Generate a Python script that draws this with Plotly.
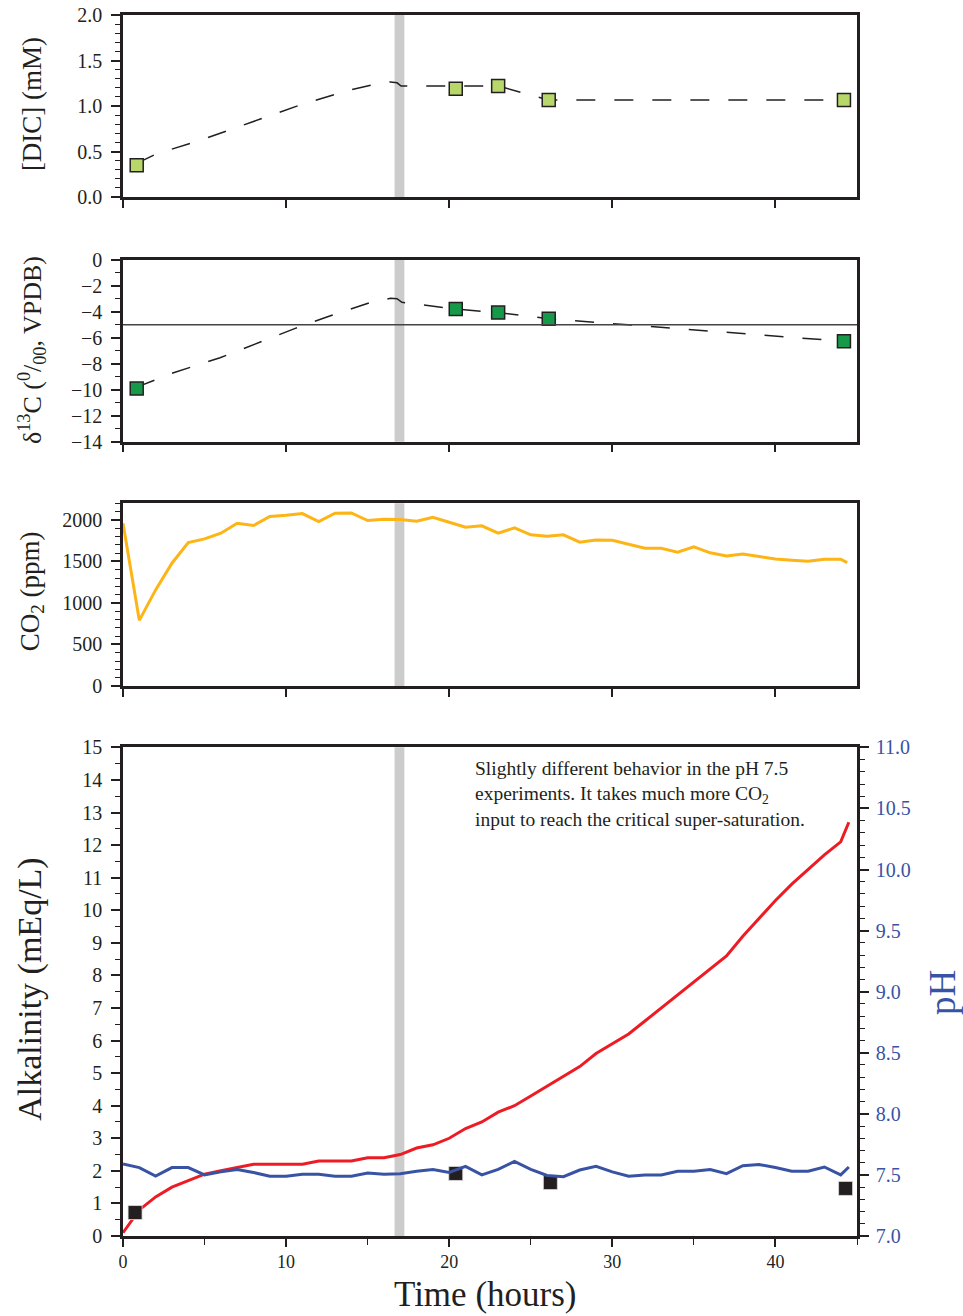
import plotly.graph_objects as go

# ---------------- data ----------------
dic_time = [0.84, 20.4, 23.0, 26.1, 44.2]
dic_vals = [0.35, 1.19, 1.22, 1.066, 1.066]
dic_model_time = [0.84, 2.0, 5.0, 8.0, 11.0, 14.0, 15.5, 16.4, 16.8, 17.05, 23.0, 26.1, 44.2]
dic_model_vals = [0.37, 0.47, 0.64, 0.83, 1.02, 1.18, 1.24, 1.265, 1.255, 1.22, 1.22, 1.066, 1.066]

d13c_time = [0.84, 20.4, 23.0, 26.1, 44.2]
d13c_vals = [-9.9, -3.8, -4.07, -4.54, -6.28]
d13c_model_time = [0.84, 3.1, 5.95, 8.25, 10.56, 12.85, 15.2, 16.4, 16.8, 17.1, 20.4, 23.0, 26.1, 44.2]
d13c_model_vals = [-9.8, -8.69, -7.54, -6.43, -5.28, -4.25, -3.28, -2.97, -3.0, -3.28, -3.8, -4.07, -4.54, -6.28]
d13c_ref = -5

co2_time = list(range(45)) + [44.4]
co2_vals = [1960, 790, 1157, 1478, 1727, 1771, 1840, 1960, 1932, 2040, 2055, 2076, 1980, 2080,
            2084, 1992, 2008, 2004, 1984, 2032, 1972, 1912, 1928, 1840, 1904, 1820, 1804, 1820,
            1732, 1759, 1755, 1707, 1659, 1659, 1611, 1675, 1603, 1566, 1590, 1558, 1530, 1514,
            1502, 1526, 1526, 1486]

alk_time = list(range(45)) + [44.5]
alk_vals = [0.1, 0.8, 1.2, 1.5, 1.7, 1.9, 2.0, 2.1, 2.2, 2.2, 2.2, 2.2, 2.3, 2.3, 2.3, 2.4, 2.4,
            2.5, 2.7, 2.8, 3.0, 3.3, 3.5, 3.8, 4.0, 4.3, 4.6, 4.9, 5.2, 5.6, 5.9, 6.2, 6.6, 7.0,
            7.4, 7.8, 8.2, 8.6, 9.2, 9.75, 10.3, 10.8, 11.25, 11.7, 12.1, 12.7]

ph_time = list(range(45)) + [44.5]
ph_vals = [7.59, 7.56, 7.49, 7.56, 7.56, 7.50, 7.525, 7.545, 7.52, 7.49, 7.49, 7.505, 7.505,
           7.49, 7.49, 7.515, 7.505, 7.51, 7.53, 7.545, 7.52, 7.57, 7.50, 7.545, 7.61, 7.545,
           7.495, 7.485, 7.54, 7.57, 7.525, 7.49, 7.50, 7.50, 7.53, 7.53, 7.545, 7.51, 7.575,
           7.585, 7.56, 7.53, 7.53, 7.565, 7.50, 7.565]

alk_meas_time = [0.74, 20.4, 26.2, 44.3]
alk_meas_vals = [0.72, 1.92, 1.64, 1.46]

band = [16.65, 17.25]

x_ticks = [0, 10, 20, 30, 40]

# ---------------- style ----------------
FONT = "Liberation Serif, DejaVu Serif, serif"
INK = "#231f20"
BLUE = "#3953a4"
RED = "#ed1c24"
ORANGE = "#fdb415"
LIGHTGREEN = "#b7d76b"
DARKGREEN = "#17994a"

fig = go.Figure()

fig.add_trace(go.Scatter(x=dic_model_time, y=dic_model_vals, mode="lines", xaxis="x", yaxis="y",
                         line=dict(color=INK, width=1.5, dash="19px,19px"), showlegend=False))
fig.add_trace(go.Scatter(x=dic_time, y=dic_vals, mode="markers", xaxis="x", yaxis="y",
                         marker=dict(symbol="square", size=13, color=LIGHTGREEN,
                                     line=dict(color=INK, width=1.5)), showlegend=False))

fig.add_trace(go.Scatter(x=d13c_model_time, y=d13c_model_vals, mode="lines", xaxis="x2", yaxis="y2",
                         line=dict(color=INK, width=1.5, dash="19px,19px"), showlegend=False))
fig.add_trace(go.Scatter(x=d13c_time, y=d13c_vals, mode="markers", xaxis="x2", yaxis="y2",
                         marker=dict(symbol="square", size=13, color=DARKGREEN,
                                     line=dict(color=INK, width=1.5)), showlegend=False))

fig.add_trace(go.Scatter(x=co2_time, y=co2_vals, mode="lines", xaxis="x3", yaxis="y3",
                         line=dict(color=ORANGE, width=3), showlegend=False))

fig.add_trace(go.Scatter(x=ph_time, y=ph_vals, mode="lines", xaxis="x4", yaxis="y5",
                         line=dict(color=BLUE, width=3), showlegend=False))
fig.add_trace(go.Scatter(x=alk_time, y=alk_vals, mode="lines", xaxis="x4", yaxis="y4",
                         line=dict(color=RED, width=3), showlegend=False))
fig.add_trace(go.Scatter(x=alk_meas_time, y=alk_meas_vals, mode="markers", xaxis="x4", yaxis="y4",
                         marker=dict(symbol="square", size=14, color=INK,
                                     line=dict(color="#dddddd", width=0.8)), showlegend=False))

tickfont = dict(family=FONT, size=20, color=INK)

def xaxis(domain_anchor, labels):
    d = dict(range=[0, 45], domain=[0, 1], anchor=domain_anchor, showline=True, linecolor=INK,
             linewidth=2.5, mirror=True, ticks="outside", ticklen=8, tickwidth=1.5, tickcolor=INK,
             tickvals=x_ticks, showgrid=False, zeroline=False, showticklabels=labels,
             automargin=False, tickfont=dict(family=FONT, size=18, color=INK))
    if labels:
        d["minor"] = dict(dtick=5, ticks="outside", ticklen=6, tickwidth=1.2, tickcolor=INK)
    return d

def yaxis(anchor, domain, rng, dtick, minor, fmt=None):
    d = dict(anchor=anchor, domain=domain, range=rng, dtick=dtick, tick0=0, showline=True,
             linecolor=INK, linewidth=2.5, mirror=True, ticks="outside", ticklen=9, tickwidth=1.5,
             tickcolor=INK, showgrid=False, zeroline=False, tickfont=tickfont,
             ticklabelstandoff=5, automargin=False,
             minor=dict(dtick=minor, ticks="outside", ticklen=5, tickwidth=1.2, tickcolor=INK))
    if fmt:
        d["tickformat"] = fmt
    return d

shapes = []
for xr, dom in [("x", "y domain"), ("x2", "y2 domain"), ("x3", "y3 domain"), ("x4", "y4 domain")]:
    shapes.append(dict(type="rect", xref=xr, yref=dom, x0=band[0], x1=band[1], y0=0, y1=1,
                       fillcolor="#cccccc", line=dict(width=0), layer="below"))
shapes.append(dict(type="line", xref="x2 domain", yref="y2", x0=0, x1=1, y0=d13c_ref, y1=d13c_ref,
                   line=dict(color="#444444", width=1.5)))

y4 = yaxis("x4", [0, 0.4002], [0, 15], 1, 0.5)
y4["mirror"] = False

annotations = [
    dict(text="[DIC] (mM)", x=-0.124, y=0.927, xref="paper", yref="paper", textangle=-90,
         showarrow=False, font=dict(family=FONT, size=27, color=INK), xanchor="center", yanchor="middle"),
    dict(text="δ<sup>13</sup>C (<sup>0</sup>/<sub>00</sub>, VPDB)", x=-0.124, y=0.7256, xref="paper",
         yref="paper", textangle=-90, showarrow=False, font=dict(family=FONT, size=26, color=INK),
         xanchor="center", yanchor="middle"),
    dict(text="CO<sub>2</sub> (ppm)", x=-0.124, y=0.528, xref="paper", yref="paper", textangle=-90,
         showarrow=False, font=dict(family=FONT, size=27, color=INK), xanchor="center", yanchor="middle"),
    dict(text="Alkalinity (mEq/L)", x=-0.127, y=0.2023, xref="paper", yref="paper", textangle=-90,
         showarrow=False, font=dict(family=FONT, size=34, color=INK), xanchor="center", yanchor="middle"),
    dict(text="pH", x=1.1158, y=0.1998, xref="paper", yref="paper", textangle=-90,
         showarrow=False, font=dict(family=FONT, size=37, color=BLUE), xanchor="center", yanchor="middle"),
    dict(text="Time (hours)", x=0.493, y=-0.0483, xref="paper", yref="paper",
         showarrow=False, font=dict(family=FONT, size=35, color=INK), xanchor="center", yanchor="middle"),
    dict(text="Slightly different behavior in the pH 7.5<br>experiments. It takes much more CO<sub>2</sub><br>"
              "input to reach the critical super-saturation.",
         x=0.4768, y=0.3930, xref="paper", yref="paper", showarrow=False, align="left",
         xanchor="left", yanchor="top", font=dict(family=FONT, size=19.5, color=INK)),
]

fig.update_layout(
    width=963, height=1316,
    margin=dict(l=123, r=106, t=15, b=80),
    paper_bgcolor="white", plot_bgcolor="rgba(0,0,0,0)",
    font=dict(family=FONT, color=INK),
    xaxis=xaxis("y", False),
    xaxis2=xaxis("y2", False),
    xaxis3=xaxis("y3", False),
    xaxis4=xaxis("y4", True),
    yaxis=yaxis("x", [0.8509, 1.0], [0, 2], 0.5, 0.1, ".1f"),
    yaxis2=yaxis("x2", [0.6505, 0.7996], [-14, 0], 2, 1),
    yaxis3=yaxis("x3", [0.4505, 0.6001], [0, 2200], 500, 100),
    yaxis4=y4,
    yaxis5=dict(overlaying="y4", anchor="x4", side="right", range=[7, 11], dtick=0.5, tick0=7,
                tickformat=".1f", showline=True, linecolor=INK, linewidth=2.5, ticks="outside",
                ticklen=9, tickwidth=1.5, tickcolor=INK, showgrid=False, zeroline=False,
                automargin=False,
                tickfont=dict(family=FONT, size=20, color=BLUE), ticklabelstandoff=3,
                minor=dict(dtick=0.1, ticks="outside", ticklen=5, tickwidth=1.2, tickcolor=INK)),
    shapes=shapes,
    annotations=annotations,
)

fig.write_html("out.html")
